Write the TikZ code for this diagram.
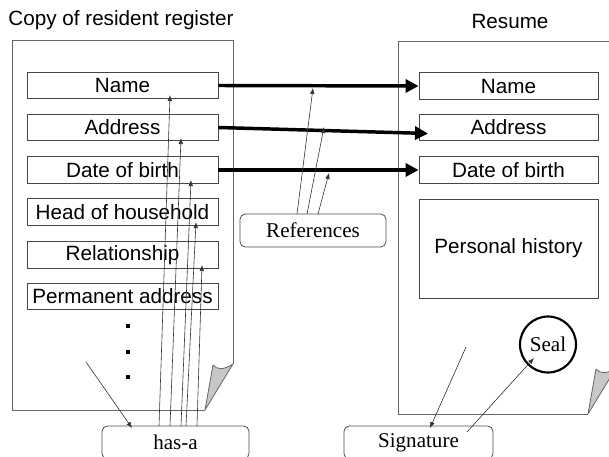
\documentclass[tikz,border=0pt]{standalone}
\usepackage{fontspec}
\setmainfont{Liberation Serif}
\newfontfamily\arialf{Liberation Sans}
\usetikzlibrary{arrows.meta}
\begin{document}
\begin{tikzpicture}[x=0.75pt,y=-0.75pt,
  pageline/.style={draw=black!60, line width=0.6pt},
  curl/.style={fill=black!22, draw=black!60, line width=0.6pt, line join=round},
  sansfont/.style={font=\arialf\fontsize{15.5}{18}\selectfont},
  field/.style={draw=black!72, line width=0.6pt, inner sep=0pt, sansfont, minimum width=143.25pt, minimum height=19.9pt},
  rfield/.style={field, minimum width=134.25pt},
  callout/.style={draw=black!70, line width=0.6pt, rounded corners=4pt, inner sep=0pt, minimum height=24.75pt, font=\fontsize{15.8}{18}\selectfont},
  thinarrow/.style={-{Latex[length=4.5pt,width=3.5pt]}, line width=0.45pt, draw=black!80},
  thickarrow/.style={-{Triangle[length=9.75pt,width=9.75pt]}, line width=2.6pt},
  dotmark/.style={fill=black, draw=none, minimum size=2.8pt, inner sep=0pt}
]
\useasboundingbox (0,0) rectangle (609,456);
\clip (0,0) rectangle (609,456);

% titles
\node[sansfont] (t1) at (121,20) {Copy of resident register};
\node[sansfont] (t2) at (510,21.5) {Resume};

% left page
\draw[pageline] (233,364) -- (233,40) -- (12,40) -- (12,410) -- (205,410);
\draw[curl] (205,410) -- (213,365) .. controls (217,370) and (224,370) .. (233,364) -- cycle;

% right page
\draw[pageline] (616,41) -- (398,41) -- (398,414) -- (588,414);
\draw[curl] (588,414) -- (596,369) .. controls (600,374) and (607,374) .. (616,368) -- cycle;

% left fields
\node[field] (lname) at (122.5,85.5) {Name};
\node[field] (laddr) at (122.5,127.5) {Address};
\node[field] (ldob)  at (122.5,170) {Date of birth};
\node[field] (lhead) at (122.5,212) {Head of household};
\node[field] (lrel)  at (122.5,255) {Relationship};
\node[field] (lperm) at (122.5,296.5) {Permanent address};
\node[dotmark] (d1) at (128,326) {};
\node[dotmark] (d2) at (128,352) {};
\node[dotmark] (d3) at (128,377) {};

% right fields
\node[rfield] (rname) at (508.5,86) {Name};
\node[rfield] (raddr) at (508.5,127.5) {Address};
\node[rfield] (rdob)  at (508.5,170) {Date of birth};
\node[rfield, minimum height=74.25pt] (rhist) at (508.5,248.5) {Personal history};
\node[draw=black, line width=1.6pt, circle, minimum size=42pt, inner sep=0pt, font=\fontsize{15.8}{18}\selectfont] (seal) at (548,344.5) {Seal};

% callouts
\node[callout, minimum width=109.5pt] (refs) at (313,230.5) {References};
\node[callout, minimum width=110.25pt] (hasa) at (175.5,442.5) {has-a};
\node[callout, minimum width=111.75pt] (sig) at (418.5,442.5) {Signature};

% thick reference arrows
\draw[thickarrow] (lname.east) -- (rname.west);
\coordinate (raddrtip) at (428,133.5);
\draw[thickarrow] (laddr.east) -- (raddrtip);
\draw[thickarrow] (ldob.east) -- (rdob.west);

% references arrows
\coordinate (rf1) at (297,214);
\coordinate (rf2) at (307,214);
\coordinate (rf3) at (318,214);
\coordinate (rt1) at (313,88);
\coordinate (rt2) at (324,127);
\coordinate (rt3) at (329,173);
\draw[thinarrow] (rf1) -- (rt1);
\draw[thinarrow] (rf2) -- (rt2);
\draw[thinarrow] (rf3) -- (rt3);

% has-a arrows
\coordinate (h1) at (159,426);
\coordinate (h2) at (170,426);
\coordinate (h3) at (181,426);
\coordinate (h4) at (186,426);
\coordinate (h5) at (197,426);
\coordinate (ht1) at (170,95);
\coordinate (ht2) at (181,138);
\coordinate (ht3) at (191,180);
\coordinate (ht4) at (196,222);
\coordinate (ht5) at (202,265);
\draw[thinarrow] (h1) -- (ht1);
\draw[thinarrow] (h2) -- (ht2);
\draw[thinarrow] (h3) -- (ht3);
\draw[thinarrow] (h4) -- (ht4);
\draw[thinarrow] (h5) -- (ht5);
\coordinate (lpage) at (86,362);
\coordinate (hasatip) at (132,428);
\draw[thinarrow] (lpage) -- (hasatip);

% signature arrows
\coordinate (rpage) at (466,347);
\coordinate (sigtip) at (430,428);
\draw[thinarrow] (rpage) -- (sigtip);
\coordinate (sigfrom) at (467,432);
\coordinate (sealtip) at (534,358);
\draw[thinarrow] (sigfrom) -- (sealtip);
\end{tikzpicture}
\end{document}
